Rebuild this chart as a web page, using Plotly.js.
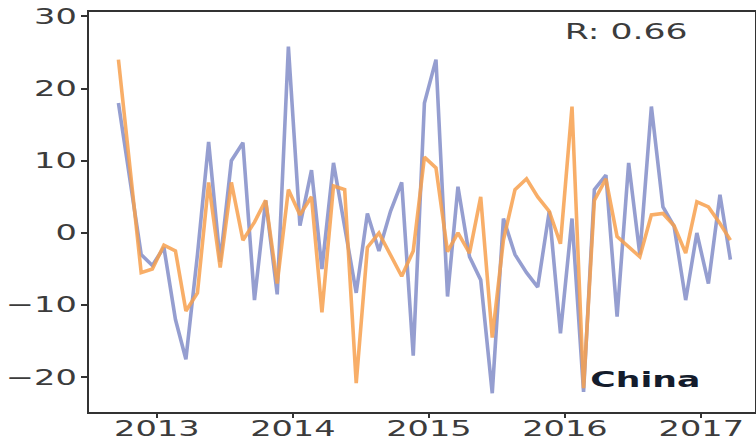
<!DOCTYPE html>
<html>
<head>
<meta charset="utf-8">
<script src="https://cdn.plot.ly/plotly-3.0.1.min.js"></script>
<style>
html,body{margin:0;padding:0;background:#fff;}
#chart{width:756px;height:445px;}
</style>
</head>
<body>
<div id="chart"></div>
<script>
// monthly observations (Sep 2012 – Mar 2017)
var months = [
  '2012-09-20','2012-10-20','2012-11-20','2012-12-20',
  '2013-01-20','2013-02-20','2013-03-20','2013-04-20','2013-05-20','2013-06-20',
  '2013-07-20','2013-08-20','2013-09-20','2013-10-20','2013-11-20','2013-12-20',
  '2014-01-20','2014-02-20','2014-03-20','2014-04-20','2014-05-20','2014-06-20',
  '2014-07-20','2014-08-20','2014-09-20','2014-10-20','2014-11-20','2014-12-20',
  '2015-01-20','2015-02-20','2015-03-20','2015-04-20','2015-05-20','2015-06-20',
  '2015-07-20','2015-08-20','2015-09-20','2015-10-20','2015-11-20','2015-12-20',
  '2016-01-20','2016-02-20','2016-03-20','2016-04-20','2016-05-20','2016-06-20',
  '2016-07-20','2016-08-20','2016-09-20','2016-10-20','2016-11-20','2016-12-20',
  '2017-01-20','2017-02-20','2017-03-20'
];
var seriesBlue = [18, 8, -3, -4.5, -2, -12, -17.5, -3, 12.6, -4, 10, 12.5, -9.3, 4.5, -8.5, 25.8,
  1, 8.7, -5, 9.7, 1, -8.3, 2.7, -2.5, 3, 7, -17, 18, 24, -8.8, 6.4, -3.3, -6.5, -22.2,
  2, -3, -5.5, -7.5, 3, -13.9, 2, -22, 6, 8, -11.6, 9.7, -3, 17.5, 3.6, 0.9, -9.3, 0, -7, 5.3, -3.7];
var seriesOrange = [24, 9.5, -5.5, -5, -1.7, -2.5, -10.8, -8.3, 7, -4.8, 7, -1, 1.5, 4.5, -7, 6,
  2.5, 5, -11, 6.5, 6, -20.8, -2, 0, -3, -6, -2.5, 10.5, 9, -2.6, 0, -2.8, 5, -14.5,
  -1, 6, 7.5, 5, 3, -1.5, 17.5, -21.5, 4.5, 7.5, -0.5, -2, -3.3, 2.5, 2.7, 1, -2.8, 4.3, 3.6, 1.3, -1];
var yTicks = [-20, -10, 0, 10, 20, 30];
var xTicks = ['2013-01-01','2014-01-01','2015-01-01','2016-01-01','2017-01-01'];
var xTickText = ['2013','2014','2015','2016','2017'];
var rLabel = 'R: 0.66';
var regionLabel = 'China';

var tickFont = {family: 'DejaVu Sans', size: 21, color: '#3c3c3c'};

var traces = [
  {x: months, y: seriesBlue, type: 'scatter', mode: 'lines',
   line: {color: 'rgba(140,150,204,0.92)', width: 3.6}, hoverinfo: 'skip'},
  {x: months, y: seriesOrange, type: 'scatter', mode: 'lines',
   line: {color: 'rgba(247,160,78,0.85)', width: 3.6}, hoverinfo: 'skip'}
];

var layout = {
  width: 756, height: 445,
  margin: {l: 89, r: 1, t: 12, b: 33, pad: 0},
  paper_bgcolor: '#fff', plot_bgcolor: '#fff',
  showlegend: false,
  xaxis: {
    type: 'date', range: ['2012-07-03', '2017-05-25'],
    tickvals: xTicks, ticktext: xTickText,
    showgrid: false, zeroline: false,
    showline: true, mirror: true, linecolor: '#333', linewidth: 2,
    ticks: 'outside', ticklen: 4, tickwidth: 2, tickcolor: '#333',
    tickfont: tickFont, ticklabelstandoff: 0
  },
  yaxis: {
    range: [-24.8, 30.6],
    tickvals: yTicks,
    showgrid: false, zeroline: false,
    showline: true, mirror: true, linecolor: '#333', linewidth: 2,
    ticks: 'outside', ticklen: 6, tickwidth: 2, tickcolor: '#333',
    tickfont: tickFont, ticklabelstandoff: 0
  },
  annotations: [
    {text: rLabel, xref: 'paper', yref: 'paper', x: 0.806, y: 0.95,
     xanchor: 'center', yanchor: 'middle', showarrow: false,
     font: {family: 'DejaVu Sans', size: 21, color: '#3c3c3c'}},
    {text: '<b>' + regionLabel + '</b>', xref: 'paper', yref: 'paper', x: 0.836, y: 0.08,
     xanchor: 'center', yanchor: 'middle', showarrow: false,
     font: {family: 'DejaVu Sans', size: 21, color: '#141c2c'}}
  ]
};

function stretch(el, s, dy) {
  var X = parseFloat(el.getAttribute('x')) || 0;
  var E = el.getAttribute('transform') || '';
  el.setAttribute('transform', E + ' translate(' + ((1 - s) * X) + ',' + (dy || 0) + ') scale(' + s + ',1)');
}

Plotly.newPlot('chart', traces, layout, {staticPlot: true, displayModeBar: false}).then(function (gd) {
  gd.querySelectorAll('g.xtick text').forEach(function (el) { stretch(el, 1.6, -7); });
  gd.querySelectorAll('g.ytick text').forEach(function (el) { stretch(el, 1.6, 0); });
  gd.querySelectorAll('text.annotation-text').forEach(function (el) { stretch(el, 1.65, 0); });
});
</script>
</body>
</html>
